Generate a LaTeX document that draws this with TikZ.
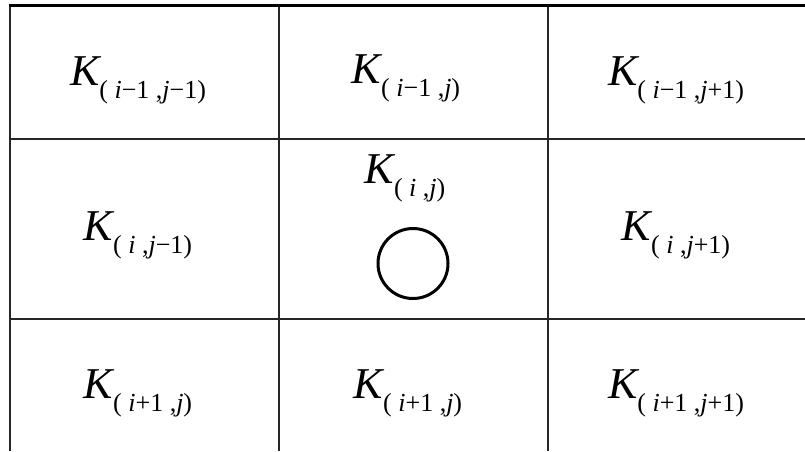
\documentclass[tikz,border=0pt]{standalone}
\usepackage{fontspec}
\setmainfont{Liberation Serif}
\newcommand\Klab[1]{{\fontsize{44}{44}\selectfont\itshape K}\raisebox{-13pt}{\fontsize{26}{26}\selectfont #1}}
\begin{document}
\begin{tikzpicture}[x=1pt,y=-1pt,
  lbl/.style={anchor=base,inner sep=0pt},
  grid/.style={line width=2pt,draw=black!85}]
\useasboundingbox (0,0) rectangle (805,451);
% grid
\draw[grid] (9.5,5) -- (9.5,451);
\draw[grid] (279,5) -- (279,451);
\draw[grid] (548,5) -- (548,451);
\draw[grid] (9.5,139) -- (805,139);
\draw[grid] (9.5,319) -- (805,319);
\draw[line width=3pt] (8.5,5) -- (805,5);
% labels
\node[lbl] (a) at (138,85) {\Klab{( \textit{i}−1 ,\textit{j}−1)}};
\node[lbl] (b) at (406,83) {\Klab{( \textit{i}−1 ,\textit{j})}};
\node[lbl] (c) at (676,85) {\Klab{( \textit{i}−1 ,\textit{j}+1)}};
\node[lbl] (d) at (138,240) {\Klab{( \textit{i} ,\textit{j}−1)}};
\node[lbl] (e) at (405,183) {\Klab{( \textit{i} ,\textit{j})}};
\node[lbl] (f) at (676,240) {\Klab{( \textit{i} ,\textit{j}+1)}};
\node[lbl] (g) at (138,398) {\Klab{( \textit{i}+1 ,\textit{j})}};
\node[lbl] (h) at (408,398) {\Klab{( \textit{i}+1 ,\textit{j})}};
\node[lbl] (k) at (676,398) {\Klab{( \textit{i}+1 ,\textit{j}+1)}};
\node[circle,draw,line width=3pt,minimum size=70pt,inner sep=0pt] (o) at (413,263.5) {};
\end{tikzpicture}
\end{document}
